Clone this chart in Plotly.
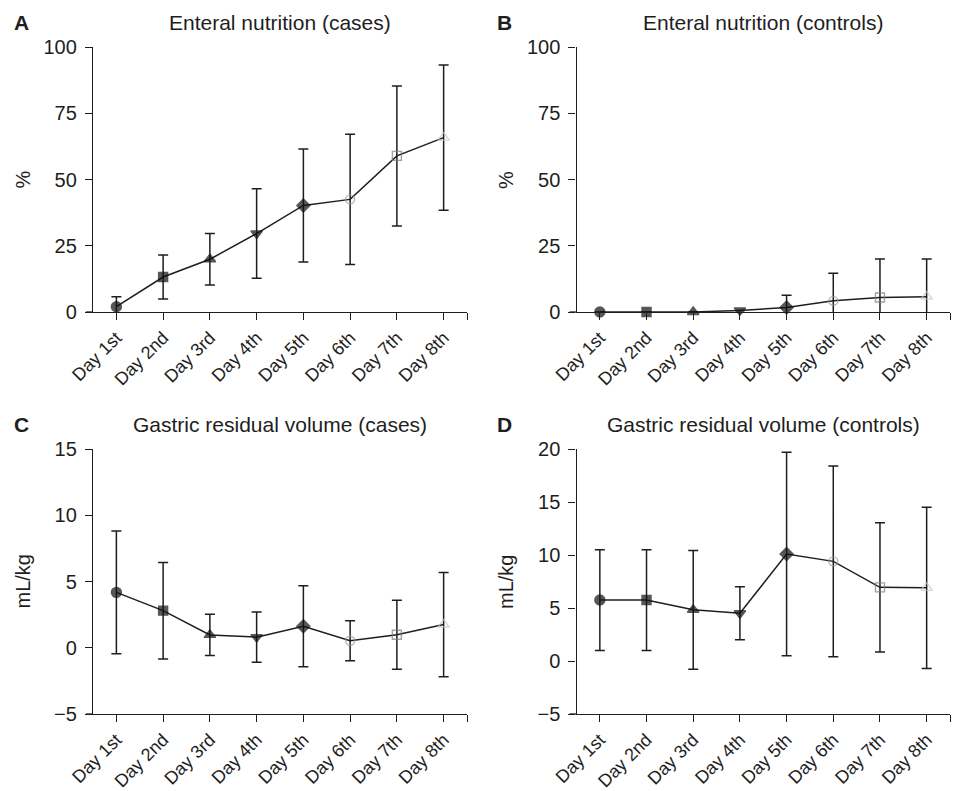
import plotly.graph_objects as go

days = ["Day 1st", "Day 2nd", "Day 3rd", "Day 4th", "Day 5th", "Day 6th", "Day 7th", "Day 8th"]

# Panel A: Enteral nutrition (cases), %
en_cases_mean = [2.0, 13.2, 19.9, 29.6, 40.2, 42.5, 58.9, 65.8]
en_cases_err = [3.8, 8.3, 9.7, 16.9, 21.3, 24.6, 26.4, 27.4]

# Panel B: Enteral nutrition (controls), %
en_ctrl_mean = [0.0, 0.0, 0.0, 0.6, 1.7, 4.2, 5.5, 5.8]
en_ctrl_err = [0.0, 0.0, 0.0, 0.0, 4.6, 10.4, 14.5, 14.2]

# Panel C: Gastric residual volume (cases), mL/kg
grv_cases_mean = [4.18, 2.80, 0.97, 0.80, 1.62, 0.53, 0.98, 1.75]
grv_cases_err = [4.63, 3.64, 1.55, 1.90, 3.05, 1.51, 2.60, 3.93]

# Panel D: Gastric residual volume (controls), mL/kg
grv_ctrl_mean = [5.75, 5.75, 4.83, 4.50, 10.1, 9.4, 6.95, 6.9]
grv_ctrl_err = [4.75, 4.75, 5.60, 2.50, 9.6, 9.0, 6.1, 7.6]

titles = ["Enteral nutrition (cases)", "Enteral nutrition (controls)",
          "Gastric residual volume (cases)", "Gastric residual volume (controls)"]
letters = ["A", "B", "C", "D"]
ytitles = ["%", "%", "mL/kg", "mL/kg"]
yranges = [[0, 100], [0, 100], [-5, 15], [-5, 20]]
ytickvals = [[0, 25, 50, 75, 100], [0, 25, 50, 75, 100], [-5, 0, 5, 10, 15], [-5, 0, 5, 10, 15, 20]]
yticktext = [["0", "25", "50", "75", "100"], ["0", "25", "50", "75", "100"],
             ["\u22125", "0", "5", "10", "15"], ["\u22125", "0", "5", "10", "15", "20"]]

symbols = ["circle", "square", "triangle-up", "triangle-down", "diamond",
           "circle-open", "square-open", "triangle-up-open"]
mcolors = ["#111111", "#111111", "#111111", "#111111", "#111111", "#9a9a9a", "#7a7a7a", "#c4c4c4"]
msizes = [10, 9, 10, 10, 10, 9, 9, 10]

OFF = 8  # page body margin
W, H = 959 - OFF, 791 - OFF
INK = "#1e1e1e"
FONT = "Liberation Sans, Arial, sans-serif"

# pixel boxes in the final picture: (left, right, top, bottom)
boxes = [(93, 467, 47, 312), (576.5, 950, 47, 312), (93, 467, 449, 714), (576.5, 950, 449, 714)]


def px(x):
    return (x - OFF) / W


def py(y):
    return 1 - (y - OFF) / H


means = [en_cases_mean, en_ctrl_mean, grv_cases_mean, grv_ctrl_mean]
errs = [en_cases_err, en_ctrl_err, grv_cases_err, grv_ctrl_err]

fig = go.Figure()
xs = list(range(len(days)))
layout = dict(width=W, height=H,
              margin=dict(l=0, r=0, t=0, b=0, pad=0, autoexpand=False),
              paper_bgcolor="white", plot_bgcolor="white", showlegend=False,
              font=dict(family=FONT, color=INK, size=18))
annotations = []
shapes = []
for i in range(4):
    sfx = "" if i == 0 else str(i + 1)
    l, r, t, b = boxes[i]
    xd = [px(l), px(r)]
    yd = [py(b), py(t)]
    fig.add_trace(go.Scatter(x=xs, y=means[i], mode="lines",
                             line=dict(color=INK, width=1.5),
                             error_y=dict(type="data", array=errs[i], visible=True,
                                          color=INK, thickness=1.5, width=5),
                             xaxis="x" + sfx, yaxis="y" + sfx, hoverinfo="skip"))
    fig.add_trace(go.Scatter(x=xs, y=means[i], mode="markers", cliponaxis=False,
                             marker=dict(symbol=symbols, color=mcolors, size=msizes,
                                         line=dict(color=mcolors, width=1.4)),
                             xaxis="x" + sfx, yaxis="y" + sfx))
    layout["xaxis" + sfx] = dict(domain=xd, range=[-0.5, 7.5], anchor="y" + sfx,
                                 tickvals=xs + [7.5], ticktext=days + [""],
                                 tickangle=-45, ticks="outside", ticklen=7, tickwidth=1.3,
                                 tickcolor=INK, showline=True, linecolor=INK, linewidth=1.3,
                                 showgrid=False, zeroline=False, automargin=False,
                                 ticklabelstandoff=0,
                                 tickfont=dict(size=18, color=INK, family=FONT))
    layout["yaxis" + sfx] = dict(domain=yd, range=yranges[i], anchor="x" + sfx,
                                 tickvals=ytickvals[i], ticktext=yticktext[i],
                                 ticks="outside", ticklen=7, tickwidth=1.3, tickcolor=INK,
                                 showline=True, linecolor=INK, linewidth=1.3,
                                 showgrid=False, zeroline=False, automargin=False,
                                 ticklabelstandoff=4,
                                 tickfont=dict(size=20, color=INK, family=FONT))
    # x-axis line extends under the y tick
    shapes.append(dict(type="line", xref="paper", yref="paper",
                       x0=px(l - 7), x1=px(l), y0=py(b), y1=py(b),
                       line=dict(color=INK, width=1.3)))
    annotations.append(dict(text=titles[i], xref="paper", yref="paper",
                            x=px((l + r) / 2), y=py(t - 25), xanchor="center",
                            yanchor="middle", showarrow=False,
                            font=dict(size=21, color=INK, family=FONT)))
    annotations.append(dict(text="<b>" + letters[i] + "</b>", xref="paper", yref="paper",
                            x=px(l - 72), y=py(t - 25), xanchor="center",
                            yanchor="middle", showarrow=False,
                            font=dict(size=21, color=INK, family=FONT)))
    annotations.append(dict(text=ytitles[i], xref="paper", yref="paper",
                            x=px(l - 71), y=py((t + b) / 2), xanchor="center",
                            yanchor="middle", showarrow=False, textangle=-90,
                            font=dict(size=20, color=INK, family=FONT)))

layout["annotations"] = annotations
layout["shapes"] = shapes
fig.update_layout(**layout)
fig.write_html("out.html")
